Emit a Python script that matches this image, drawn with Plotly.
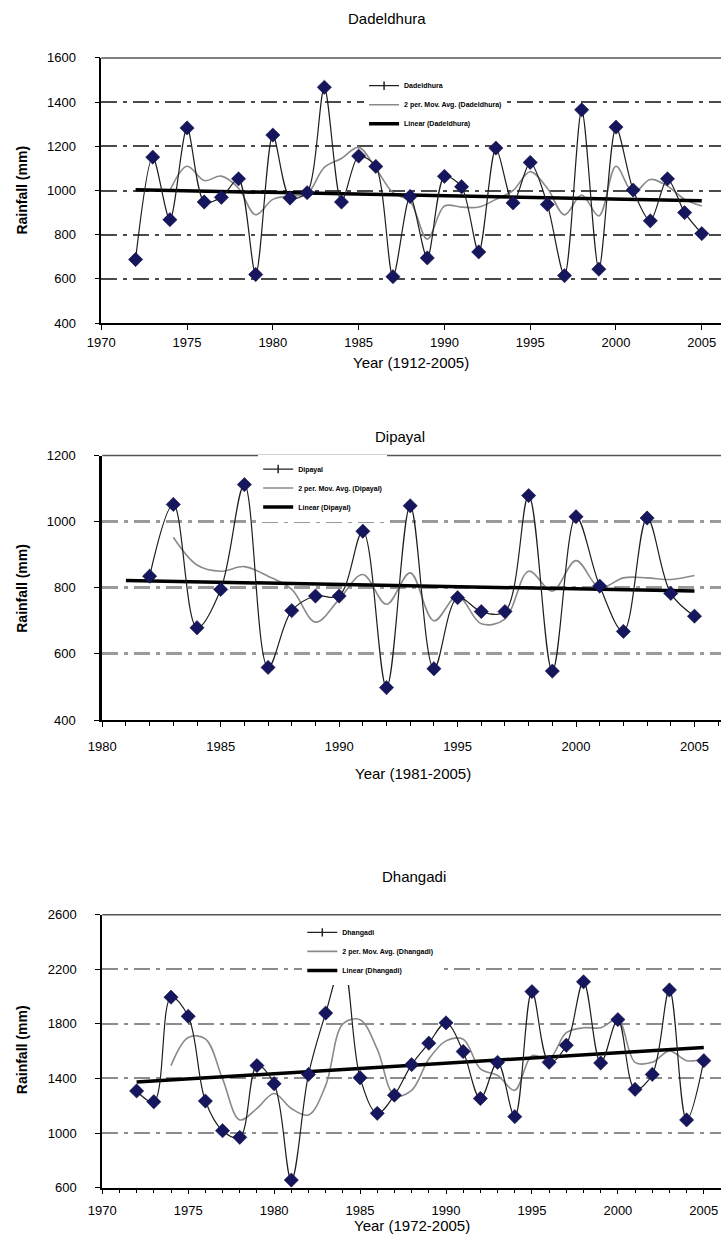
import plotly.graph_objects as go

W, H = 721, 1245
FONT = "Liberation Sans, Arial, sans-serif"

# ---------------- data ----------------
dad_years = list(range(1972, 2006))
dad_rain = [688, 1151, 868, 1283, 948, 969, 1053, 620, 1251, 966, 990, 1467, 948, 1156,
            1109, 610, 973, 695, 1064, 1017, 722, 1192, 944, 1127, 937, 615, 1365, 644,
            1287, 1002, 863, 1053, 900, 805]
dad_ma_years = list(range(1974, 2006))
dad_ma = [1000, 1110, 1045, 1065, 1010, 890, 960, 975, 985, 1105, 1145, 1195, 1100, 990,
          950, 780, 930, 925, 925, 960, 1000, 1085, 1010, 890, 980, 885, 1110, 990, 1050,
          1020, 960, 930]
dad_trend_years = [1972, 2005]
dad_trend = [1003, 954]

dip_years = list(range(1982, 2006))
dip_rain = [835, 1052, 679, 795, 1112, 559, 731, 775, 775, 971, 498, 1048, 555, 770, 728,
            728, 1079, 548, 1015, 805, 668, 1011, 783, 714]
dip_ma_years = list(range(1983, 2006))
dip_ma = [953, 869, 850, 864, 835, 795, 696, 765, 840, 750, 845, 700, 775, 691, 705, 850,
          790, 882, 800, 830, 830, 825, 837]
dip_trend_years = [1981, 2005]
dip_trend = [822, 790]

dha_years = list(range(1972, 2006))
dha_rain = [1308, 1229, 1995, 1855, 1234, 1017, 968, 1494, 1361, 655, 1429, 1879, 2250,
            1405, 1144, 1277, 1501, 1658, 1807, 1597, 1253, 1518, 1120, 2036, 1518, 1643,
            2108, 1513, 1831, 1320, 1429, 2048, 1096, 1530]
dha_ma_years = list(range(1974, 2006))
dha_ma = [1494, 1700, 1690, 1397, 1096, 1180, 1289, 1180, 1132, 1349, 1800, 1830, 1614,
          1277, 1313, 1542, 1675, 1687, 1470, 1422, 1313, 1566, 1542, 1735, 1771, 1771,
          1831, 1518, 1518, 1602, 1530, 1542]
dha_trend_years = [1972, 2005]
dha_trend = [1373, 1626]

titles = ["Dadeldhura", "Dipayal", "Dhangadi"]
legend_names = ["Dadeldhura", "Dipayal", "Dhangadi"]
xtitles = ["Year (1912-2005)", "Year (1981-2005)", "Year (1972-2005)"]
ytitle = "Rainfall (mm)"

# ---------------- helpers ----------------
def fy(px):
    return 1 - px / H

def fx(px):
    return px / W

fig = go.Figure()

panels = [
    dict(years=dad_years, rain=dad_rain, ma_y=dad_ma_years, ma=dad_ma,
         ty=dad_trend_years, tr=dad_trend, smooth=0.8),
    dict(years=dip_years, rain=dip_rain, ma_y=dip_ma_years, ma=dip_ma,
         ty=dip_trend_years, tr=dip_trend, smooth=1.0),
    dict(years=dha_years, rain=dha_rain, ma_y=dha_ma_years, ma=dha_ma,
         ty=dha_trend_years, tr=dha_trend, smooth=1.0),
]

for i, p in enumerate(panels):
    n = "" if i == 0 else str(i + 1)
    xa, ya = "x" + n, "y" + n
    lg = "legend" + n
    name = legend_names[i]
    # legend-only entry for the data series (small marker like Excel legend)
    fig.add_trace(go.Scatter(x=[None], y=[None], mode="lines+markers", name=name,
                             line=dict(color="#222222", width=1.2),
                             marker=dict(symbol="line-ns-open", size=6,
                                         line=dict(color="#222222", width=1.5)),
                             xaxis=xa, yaxis=ya, legend=lg))
    fig.add_trace(go.Scatter(x=p["ma_y"], y=p["ma"], mode="lines",
                             name="2 per. Mov. Avg. (%s)" % name,
                             line=dict(color="#8a8a8a", width=1.6, shape="spline",
                                       smoothing=1.0),
                             xaxis=xa, yaxis=ya, legend=lg))
    fig.add_trace(go.Scatter(x=p["ty"], y=p["tr"], mode="lines",
                             name="Linear (%s)" % name,
                             line=dict(color="#000000", width=3.5),
                             xaxis=xa, yaxis=ya, legend=lg))
    fig.add_trace(go.Scatter(x=p["years"], y=p["rain"], mode="lines+markers",
                             showlegend=False,
                             line=dict(color="#1e1e1e", width=1.2, shape="spline",
                                       smoothing=p["smooth"]),
                             marker=dict(symbol="diamond", size=11, color="#16165e",
                                         line=dict(color="#0a0a3a", width=0.5)),
                             xaxis=xa, yaxis=ya, legend=lg))

axis_font = dict(family=FONT, size=13, color="#000000")

cfg = [
    dict(xd=[fx(89), 1], xr=[1970, 2006.12], yd=[fy(320), fy(51.5)], yr=[400, 1600],
         dty=200, t0=0, minor=False, grid="#4a4a4a", gw=1.6, yl=1.5, lx=[357, 65],
         t=(380, 12), yt=(8, 185), xt=(405, 360), std=1),
    dict(xd=[fx(90), 1], xr=[1980, 2006.12], yd=[fy(721.7), fy(454)], yr=[400, 1200],
         dty=200, t0=0, minor=True, grid="#9a9a9a", gw=2.6, yl=3, lx=[249, 453],
         t=(394, 435), yt=(8, 588), xt=(407, 776), std=9),
    dict(xd=[fx(90), 1], xr=[1970, 2006.0], yd=[fy(1195), fy(918.7)], yr=[600, 2600],
         dty=400, t0=200, minor=True, grid="#8c8c8c", gw=2.2, yl=1.8, lx=[294, 922],
         t=(408, 880), yt=(8, 1055), xt=(406, 1233), std=5),
]

layout = dict(width=W, height=H, margin=dict(l=0, r=0, t=0, b=0),
              paper_bgcolor="white", plot_bgcolor="white", showlegend=True,
              font=dict(family=FONT, color="#000000"))
annotations = []
shapes = []
for i, c in enumerate(cfg):
    n = "" if i == 0 else str(i + 1)
    xkey, ykey = "xaxis" + n, "yaxis" + n
    xa = dict(domain=c["xd"], range=c["xr"], anchor="y" + n, showgrid=False,
              zeroline=False, showline=True, linecolor="#000000", linewidth=1.6,
              ticks="outside", ticklen=5, tickwidth=1.2, tickcolor="#000000",
              tick0=1970, dtick=5, tickfont=axis_font, ticklabelstandoff=c["std"])
    if c["minor"]:
        xa["minor"] = dict(dtick=1, tick0=1970, ticks="outside", ticklen=4,
                           tickwidth=1, tickcolor="#000000", showgrid=False)
    ya = dict(domain=c["yd"], range=c["yr"], anchor="x" + n, showgrid=True,
              gridcolor=c["grid"], gridwidth=c["gw"], griddash="16px,6px,4px,6px",
              zeroline=False, showline=True, linecolor="#000000", linewidth=c["yl"],
              ticks="outside", ticklen=5, tickwidth=1.2, tickcolor="#000000",
              dtick=c["dty"], tick0=c["t0"], tickfont=axis_font, ticklabelstandoff=16)
    layout[xkey] = xa
    layout[ykey] = ya
    lgkey = "legend" + n
    layout[lgkey] = dict(x=fx(c["lx"][0]), y=fy(c["lx"][1]), xanchor="left",
                         yanchor="top", bgcolor="white", borderwidth=0,
                         font=dict(family=FONT, size=7, color="#000000", weight="bold"),
                         itemwidth=30, tracegroupgap=0)
    shapes.append(dict(type="line", xref="x%s domain" % n, yref="y%s domain" % n,
                       x0=0, x1=1, y0=1, y1=1,
                       line=dict(color="#555555", width=1.5)))
    annotations.append(dict(text=titles[i], x=fx(c["t"][0]), y=fy(c["t"][1]),
                            xref="paper", yref="paper", showarrow=False,
                            xanchor="center", yanchor="middle",
                            font=dict(family=FONT, size=15, color="#000000")))
    annotations.append(dict(text=ytitle, x=fx(c["yt"][0]), y=fy(c["yt"][1]),
                            xref="paper", yref="paper", showarrow=False, textangle=-90,
                            xanchor="center", yanchor="middle",
                            font=dict(family=FONT, size=14, color="#000000",
                                      weight="bold")))
    annotations.append(dict(text=xtitles[i], x=fx(c["xt"][0]), y=fy(c["xt"][1]),
                            xref="paper", yref="paper", showarrow=False,
                            xanchor="center", yanchor="middle",
                            font=dict(family=FONT, size=15, color="#000000")))

layout["annotations"] = annotations
layout["shapes"] = shapes
fig.update_layout(**layout)
fig.write_html("out.html")
